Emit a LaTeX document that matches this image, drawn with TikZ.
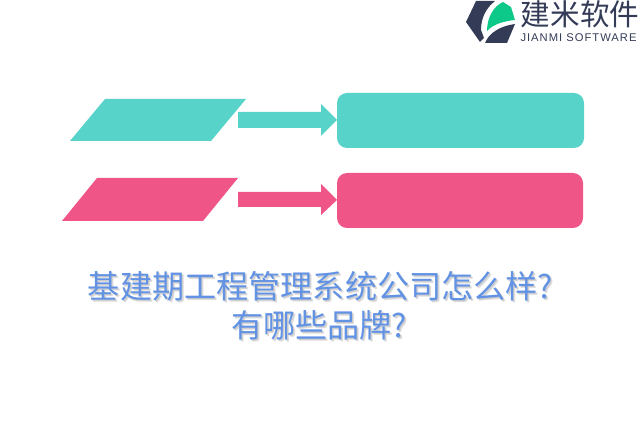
\documentclass[tikz,border=0pt]{standalone}
\usepackage{fontspec}
\newfontfamily\cjk{Noto Sans CJK SC}
\newfontfamily\latinsub[LetterSpace=9]{Liberation Sans}
\usepackage{tikz}
\definecolor{Teal}{HTML}{57D3C9}
\definecolor{Rose}{HTML}{F05588}
\definecolor{Navy}{HTML}{333B57}
\definecolor{Leaf}{HTML}{0CC98A}
\definecolor{Title}{HTML}{6292E4}
\tikzset{
  bigarrow/.style={draw=none, fill=#1},
  titletext/.style={font=\cjk\fontsize{24.1pt}{28pt}\selectfont, text=Title, anchor=center, inner sep=0pt},
  titleshadow/.style={font=\cjk\fontsize{24.1pt}{28pt}\selectfont, text=black!32, anchor=center, inner sep=0pt, opacity=.4},
}
\begin{document}
\begin{tikzpicture}[x=0.75pt, y=-0.75pt]
  \useasboundingbox (0,0) rectangle (640,427);

  % top row
  \path[fill=Teal] (70,141) -- (105,99) -- (246,99) -- (211,141) -- cycle;
  \path[bigarrow=Teal] (238,112) -- (321,112) -- (321,104) -- (337,120) -- (321,136) -- (321,128) -- (238,128) -- cycle;
  \node[fill=Teal, rounded corners=7.5pt, minimum width=185.25pt, minimum height=41.25pt, inner sep=0pt] (topbox) at (460.5,120.5) {};

  % bottom row
  \path[fill=Rose] (62,221) -- (97,178) -- (238,178) -- (203,221) -- cycle;
  \path[bigarrow=Rose] (238,192) -- (321,192) -- (321,184) -- (337,200) -- (321,215) -- (321,207) -- (238,207) -- cycle;
  \node[fill=Rose, rounded corners=7.5pt, minimum width=184.5pt, minimum height=41.25pt, inner sep=0pt] (botbox) at (460,200.5) {};

  % title
  \node[titleshadow] at (322.5,288) {基建期工程管理系统公司怎么样?};
  \node[titleshadow] at (321,327) {有哪些品牌?};
  \node[titleshadow] at (321.5,287.5) {基建期工程管理系统公司怎么样?};
  \node[titleshadow] at (320,326.5) {有哪些品牌?};
  \node[titletext] (line1) at (320.5,286) {基建期工程管理系统公司怎么样?};
  \node[titletext] (line2) at (319,325) {有哪些品牌?};

  % logo
  \path[fill=Navy] (476,1) -- (495,1) .. controls (486,8) and (481,18) .. (481,30) -- (484,38) -- (480,42) -- (466,22) -- cycle;
  \path[fill=Leaf] (487,31) .. controls (487,17) and (494,6) .. (503,2) -- (511,7) -- (515,20) .. controls (505,21) and (493,24) .. (487,31) -- cycle;
  \path[fill=Navy] (485,43) .. controls (489,33) and (500,26) .. (515,24) -- (507,43) -- cycle;
  \node[font=\cjk\fontsize{22.2pt}{25pt}\selectfont, text=Navy, inner sep=0pt] (brand) at (580,14) {建米软件};
  \node[font=\latinsub\fontsize{8.4pt}{10pt}\selectfont, text=Navy, inner sep=0pt] (brandsub) at (578.5,38) {JIANMI SOFTWARE};
\end{tikzpicture}
\end{document}
